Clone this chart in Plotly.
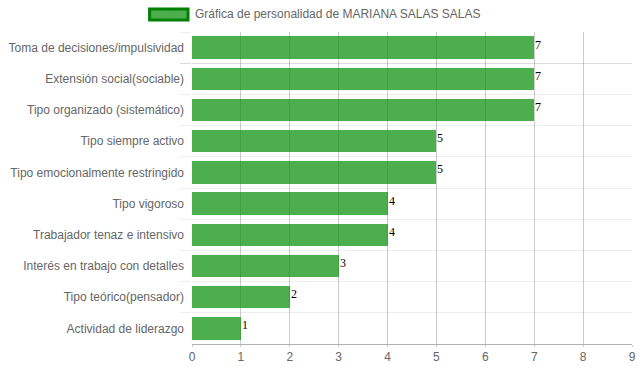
import plotly.graph_objects as go

categories = [
    "Toma de decisiones/impulsividad",
    "Extensión social(sociable)",
    "Tipo organizado (sistemático)",
    "Tipo siempre activo",
    "Tipo emocionalmente restringido",
    "Tipo vigoroso",
    "Trabajador tenaz e intensivo",
    "Interés en trabajo con detalles",
    "Tipo teórico(pensador)",
    "Actividad de liderazgo",
]
values = [7, 7, 7, 5, 5, 4, 4, 3, 2, 1]
series_name = "Gráfica de personalidad de MARIANA SALAS SALAS"
x_ticks = [0, 1, 2, 3, 4, 5, 6, 7, 8, 9]

BAR = "rgba(0,140,0,0.7)"
W, H = 639, 372
ML, MR, MT, MB = 191.5, 6.5, 32, 28
PW = W - ML - MR
PH = H - MT - MB

fig = go.Figure()
fig.add_trace(go.Bar(
    x=values, y=categories, orientation="h",
    marker=dict(color=BAR, line=dict(width=0)),
    width=0.72, name=series_name, showlegend=False,
    hoverinfo="x+y",
))

for c, v in zip(categories, values):
    fig.add_annotation(
        x=v, y=c, text=str(v), showarrow=False,
        xanchor="left", yanchor="middle", xshift=-1, yshift=3,
        font=dict(family="Liberation Serif", size=12, color="#000"),
    )

# legend (drawn manually to match the wide swatch)
def px2x(px):
    return (px - ML) / PW

def py2y(py):
    return 1 - (py - MT) / PH

fig.add_shape(type="rect", xref="paper", yref="paper",
              x0=px2x(149), x1=px2x(187.5), y0=py2y(20), y1=py2y(9),
              fillcolor=BAR, line=dict(color="rgb(0,128,0)", width=3))
fig.add_annotation(xref="paper", yref="paper", x=px2x(193), y=py2y(14.5),
                   text=series_name, showarrow=False, xanchor="left", yanchor="middle",
                   font=dict(family="Liberation Sans", size=12, color="#666"))

fig.update_layout(
    width=W, height=H,
    margin=dict(l=ML, r=MR, t=MT, b=MB, pad=0, autoexpand=False),
    paper_bgcolor="white", plot_bgcolor="white",
    font=dict(family="Liberation Sans", size=12, color="#666"),
    bargap=0,
    xaxis=dict(
        range=[0, 9], tickvals=x_ticks, ticktext=[str(t) for t in x_ticks],
        showgrid=True, gridcolor="rgba(0,0,0,0.2)", gridwidth=1,
        zeroline=False, showline=True, linecolor="rgba(0,0,0,0.3)", linewidth=1,
        ticks="outside", ticklen=2, tickcolor="rgba(0,0,0,0.2)",
        tickfont=dict(family="Liberation Sans", size=12, color="#666"),
        fixedrange=True, automargin=False,
    ),
    yaxis=dict(
        type="category", autorange="reversed",
        tickson="boundaries", ticks="outside", ticklen=11,
        tickcolor="rgba(0,0,0,0.07)",
        showgrid=True, gridcolor="rgba(0,0,0,0.07)", gridwidth=1,
        showline=False, zeroline=False,
        ticklabelstandoff=7,
        tickfont=dict(family="Liberation Sans", size=12, color="#666"),
        fixedrange=True, automargin=False,
    ),
)

fig.write_html(
    "out.html",
    config={"displayModeBar": False},
    post_script=(
        "document.documentElement.style.overflow='hidden';"
        "document.body.style.margin='0';"
        "document.body.style.overflow='hidden';"
    ),
)
